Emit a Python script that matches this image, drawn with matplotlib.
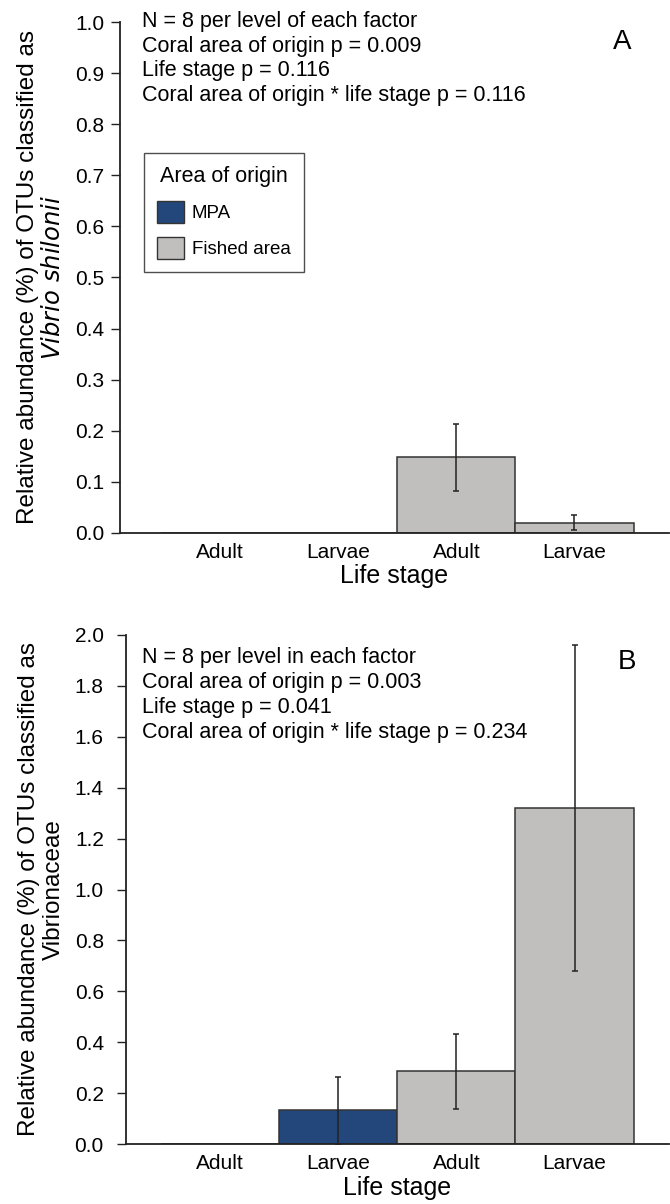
import matplotlib
matplotlib.use("Agg")
import matplotlib.pyplot as plt
from matplotlib.patches import Patch
import numpy as np

plt.rcParams['font.family'] = ['Liberation Sans', 'DejaVu Sans']

# ---- data ----
stages = ["Adult", "Larvae", "Adult", "Larvae"]
areas = ["MPA", "MPA", "Fished area", "Fished area"]

vals_a = [0.0, 0.0, 0.148, 0.020]
err_a = [0.0, 0.0, 0.065, 0.015]

vals_b = [0.0, 0.132, 0.285, 1.32]
err_b = [0.0, 0.132, 0.146, 0.64]

ann_a = ["N = 8 per level of each factor",
         "Coral area of origin p = 0.009",
         "Life stage p = 0.116",
         "Coral area of origin * life stage p = 0.116"]
ann_b = ["N = 8 per level in each factor",
         "Coral area of origin p = 0.003",
         "Life stage p = 0.041",
         "Coral area of origin * life stage p = 0.234"]

yticks_a = np.round(np.arange(0, 1.01, 0.1), 1)
yticks_b = np.round(np.arange(0, 2.01, 0.2), 1)

colors = {"MPA": "#23477a", "Fished area": "#c0bfbd"}
edge = "#333333"

W, H = 670, 1204
fig = plt.figure(figsize=(W / 100, H / 100), dpi=100)


def px_axes(left, top, right, bottom):
    return fig.add_axes([left / W, 1 - bottom / H, (right - left) / W, (bottom - top) / H])


def style(ax, yticks, ymax, pad):
    x = np.arange(len(stages))
    ax.set_ylim(0, ymax)
    ax.set_yticks(yticks)
    ax.set_yticklabels([f"{t:.1f}" for t in yticks])
    ax.set_xticks(x)
    ax.set_xticklabels(stages)
    for s in ["top", "right"]:
        ax.spines[s].set_visible(False)
    for s in ["left", "bottom"]:
        ax.spines[s].set_linewidth(1.3)
        ax.spines[s].set_color("#222222")
    ax.tick_params(axis="y", length=6.5, width=1.0, pad=pad, labelsize=15, color="#222222")
    ax.tick_params(axis="x", length=0, pad=7, labelsize=15)
    ax.set_xlabel("Life stage", fontsize=18, labelpad=2)


def bars(ax, vals, errs):
    x = np.arange(len(stages))
    cols = [colors[a] for a in areas]
    ax.bar(x, vals, width=1.0, color=cols, edgecolor=edge, linewidth=1.1, zorder=2)
    for xi, v, e in zip(x, vals, errs):
        if v > 0:
            ax.errorbar(xi, v, yerr=e, fmt="none", ecolor="#222222", elinewidth=1.1,
                        capsize=2.5, capthick=1.1, zorder=3)


# Panel A
axA = px_axes(120, 22, 669, 533)
bars(axA, vals_a, err_a)
axA.set_xlim(-0.847, 3.8)
style(axA, yticks_a, 1.0, 5)
axA.set_ylabel("Relative abundance (%) of OTUs classified as\n$\\it{Vibrio\\ shilonii}$",
               fontsize=17.5, labelpad=7, linespacing=1.15)
fig.text(142 / W, 1 - 11 / H, "\n".join(ann_a), fontsize=15.5, va="top", ha="left",
         linespacing=1.22)
fig.text(622 / W, 1 - 42 / H, "A", fontsize=20, va="center", ha="center")
leg = axA.legend(handles=[Patch(facecolor=colors["MPA"], edgecolor=edge, label="MPA"),
                          Patch(facecolor=colors["Fished area"], edgecolor=edge, label="Fished area")],
                 title="Area of origin", fontsize=13.5, title_fontsize=15.5,
                 loc="upper left", bbox_to_anchor=(144 / W, 1 - 153 / H),
                 bbox_transform=fig.transFigure, borderaxespad=0, frameon=True, fancybox=False,
                 edgecolor="#222222", handlelength=1.45, handleheight=1.4,
                 borderpad=0.7, labelspacing=0.75, handletextpad=0.4)
leg.get_frame().set_linewidth(1.0)

# Panel B
axB = px_axes(126, 635, 669, 1144)
bars(axB, vals_b, err_b)
axB.set_xlim(-0.797, 3.8)
style(axB, yticks_b, 2.0, 9.5)
axB.set_ylabel("Relative abundance (%) of OTUs classified as\nVibrionaceae",
               fontsize=17.5, labelpad=7, linespacing=1.15)
fig.text(142 / W, 1 - 647 / H, "\n".join(ann_b), fontsize=15.5, va="top", ha="left",
         linespacing=1.24)
fig.text(627 / W, 1 - 662 / H, "B", fontsize=20, va="center", ha="center")

fig.savefig("out.png", dpi=100)
